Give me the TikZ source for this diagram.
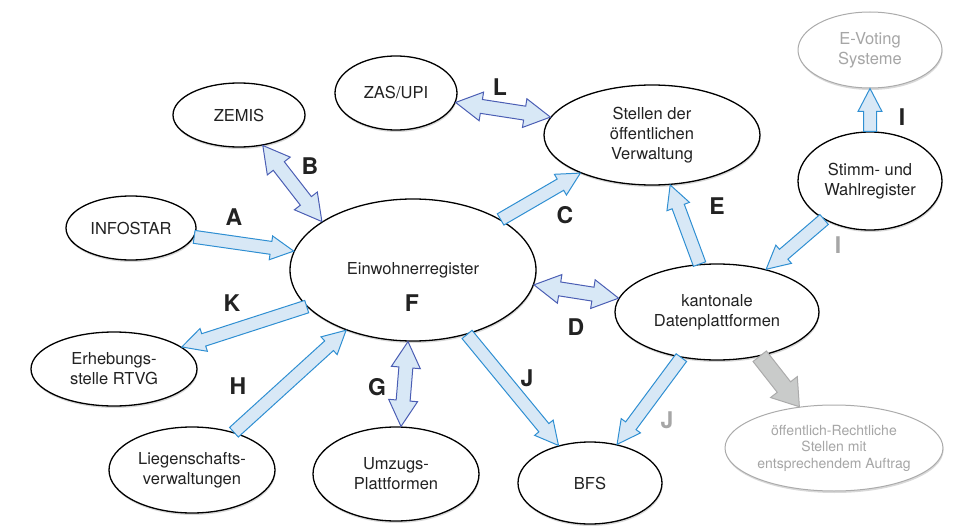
\documentclass[tikz,border=0pt]{standalone}
\usepackage{fontspec}
\setmainfont{TeX Gyre Heros}
\usetikzlibrary{calc,shapes.geometric,shadows}

\definecolor{txt}{HTML}{222222}
\definecolor{fillblue}{HTML}{D8E8F6}
\definecolor{lineblue}{HTML}{2F8FD2}
\definecolor{twinblue}{HTML}{4B5EB4}
\definecolor{greyline}{HTML}{ABABAB}
\definecolor{greytext}{HTML}{A6A6A6}
\definecolor{greyfill}{HTML}{C9CBCA}

\tikzset{shaft/.store in=\shaft, headw/.store in=\headw, headl/.store in=\headl,
  shaft=6.5pt, headw=12pt, headl=23pt}

% block arrow, one head
\newcommand{\onearrow}[3][]{%
  \draw[pfeil,#1] let \p1=(#2), \p2=(#3),
    \n1={atan2(\y2-\y1,\x2-\x1)}, \n2={veclen(\x2-\x1,\y2-\y1)} in
    ($(\p1)+({\n1+90}:\shaft)$) --
    ($(\p1)+(\n1:{\n2-\headl})+({\n1+90}:\shaft)$) --
    ($(\p1)+(\n1:{\n2-\headl})+({\n1+90}:\headw)$) --
    (\p2) --
    ($(\p1)+(\n1:{\n2-\headl})+({\n1-90}:\headw)$) --
    ($(\p1)+(\n1:{\n2-\headl})+({\n1-90}:\shaft)$) --
    ($(\p1)+({\n1-90}:\shaft)$) -- cycle;}

% block arrow, two heads
\newcommand{\twoarrow}[3][]{%
  \draw[pfeil,twin,#1] let \p1=(#2), \p2=(#3),
    \n1={atan2(\y2-\y1,\x2-\x1)}, \n2={veclen(\x2-\x1,\y2-\y1)} in
    (\p1) --
    ($(\p1)+(\n1:\headl)+({\n1+90}:\headw)$) --
    ($(\p1)+(\n1:\headl)+({\n1+90}:\shaft)$) --
    ($(\p1)+(\n1:{\n2-\headl})+({\n1+90}:\shaft)$) --
    ($(\p1)+(\n1:{\n2-\headl})+({\n1+90}:\headw)$) --
    (\p2) --
    ($(\p1)+(\n1:{\n2-\headl})+({\n1-90}:\headw)$) --
    ($(\p1)+(\n1:{\n2-\headl})+({\n1-90}:\shaft)$) --
    ($(\p1)+(\n1:\headl)+({\n1-90}:\shaft)$) --
    ($(\p1)+(\n1:\headl)+({\n1-90}:\headw)$) -- cycle;}

\begin{document}
\begin{tikzpicture}[x=1pt,y=-1pt,
  ell/.style={ellipse,draw=black,line width=1.3pt,fill=white,inner sep=0pt,align=center,
    text=txt,font=\fontsize{16.5}{20}\selectfont,
    drop shadow={shadow xshift=0.6pt,shadow yshift=-2pt,opacity=0.3}},
  greyell/.style={ell,draw=greyline,text=greytext,line width=1pt},
  lbl/.style={font=\fontsize{23}{23}\selectfont\bfseries,text=txt},
  greylbl/.style={lbl,text=greytext},
  pfeil/.style={fill=fillblue,draw=lineblue,line width=1pt,line join=miter},
  twin/.style={draw=twinblue,shaft=7pt,headw=14.5pt,headl=26pt},
  greyarrow/.style={fill=greyfill,draw=greyline,shaft=8.5pt,headw=17pt,headl=25pt}]
\useasboundingbox (0,0) rectangle (954,527);

\node[ell,minimum width=132,minimum height=64] (zemis) at (239,115) {ZEMIS};
\node[ell,minimum width=122,minimum height=74] (zas) at (396,93) {ZAS/UPI};
\node[ell,minimum width=130,minimum height=64] (infostar) at (131,228) {INFOSTAR};
\node[ell,minimum width=246,minimum height=142] (ein) at (413,270) {Einwohnerregister};
\node[ell,minimum width=216,minimum height=100] (stellen) at (652,135) {Stellen der\\öffentlichen\\Verwaltung};
\node[greyell,minimum width=144,minimum height=76] (evoting) at (870,50) {E-Voting\\Systeme};
\node[ell,minimum width=144,minimum height=98] (stimm) at (870,181) {Stimm- und\\Wahlregister};
\node[ell,minimum width=204,minimum height=96] (kanton) at (717,312) {kantonale\\Datenplattformen};
\node[greyell,minimum width=218,minimum height=86,font=\fontsize{14}{16.5}\selectfont] (oeff) at (834,448)
  {öffentlich-Rechtliche\\Stellen mit\\entsprechendem Auftrag};
\node[ell,minimum width=144,minimum height=82] (bfs) at (590,483) {BFS};
\node[ell,minimum width=166,minimum height=74] (erheb) at (114,369) {Erhebungs-\\stelle RTVG};
\node[ell,minimum width=166,minimum height=86] (liegen) at (192,470) {Liegenschafts-\\verwaltungen};
\node[ell,minimum width=166,minimum height=94] (umzug) at (396,474) {Umzugs-\\Plattformen};

\onearrow{infostar.-8.6}{ein.171.3}
\twoarrow{zemis.-52}{ein.152.4}
\twoarrow{zas.-9.5}{stellen.170.2}
\onearrow{ein.30}{stellen.208.8}
\onearrow{kanton.110}{stellen.-70}
\onearrow{stimm.90}{evoting.-90}
\onearrow{stimm.220}{kanton.41.4}
\twoarrow{ein.-7.1}{kanton.172}
\onearrow{ein.199.7}{erheb.18}
\onearrow{liegen.42}{ein.222.7}
\twoarrow{ein.-94}{umzug.84}
\onearrow{ein.-50}{bfs.130}
\onearrow{kanton.232.7}{bfs.55}
\onearrow[greyarrow]{kanton.-46}{oeff.130}

\node[lbl] (la) at (234,217) {A};
\node[lbl] (lb) at (310,166) {B};
\node[lbl] (ll) at (500,87) {L};
\node[lbl] (lc) at (565,215) {C};
\node[lbl] (le) at (717,206) {E};
\node[lbl] (li) at (902,117) {I};
\node[greylbl] (li2) at (838,245) {I};
\node[lbl] (lk) at (232,303) {K};
\node[lbl] (lf) at (412,303) {F};
\node[lbl] (ld) at (576,327) {D};
\node[lbl] (lh) at (238,386) {H};
\node[lbl] (lg) at (377,387) {G};
\node[lbl] (lj) at (527,378) {J};
\node[greylbl] (lj2) at (667,420) {J};
\end{tikzpicture}
\end{document}
